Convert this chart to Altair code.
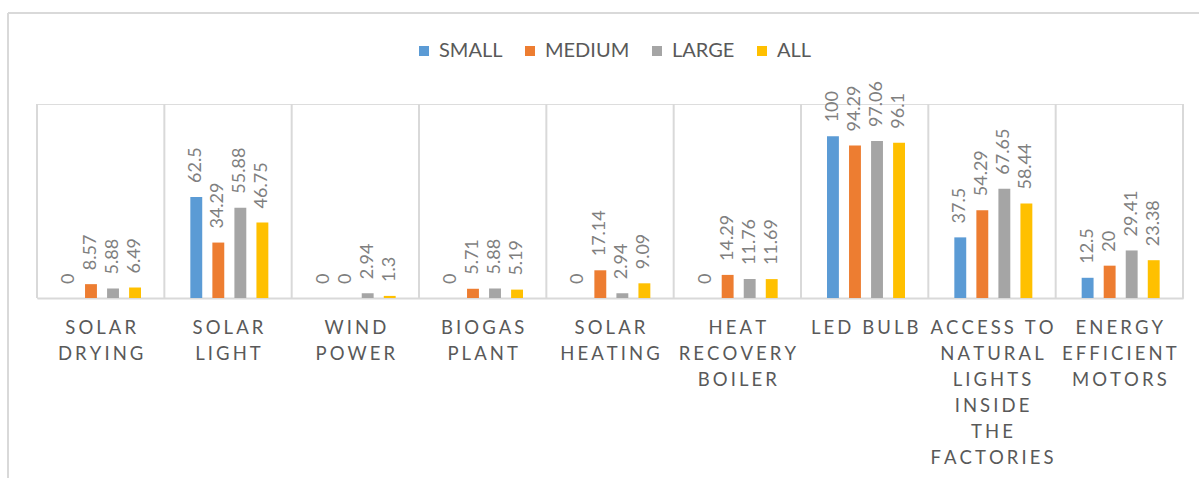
import altair as alt
import pandas as pd

categories = [
    "SOLAR|DRYING",
    "SOLAR|LIGHT",
    "WIND|POWER",
    "BIOGAS|PLANT",
    "SOLAR|HEATING",
    "HEAT|RECOVERY|BOILER",
    "LED BULB",
    "ACCESS TO|NATURAL|LIGHTS|INSIDE|THE|FACTORIES",
    "ENERGY|EFFICIENT|MOTORS",
]
series = ["SMALL", "MEDIUM", "LARGE", "ALL"]
colors = ["#5B9BD5", "#ED7D31", "#A5A5A5", "#FFC000"]

small = [0, 62.5, 0, 0, 0, 0, 100, 37.5, 12.5]
medium = [8.57, 34.29, 0, 5.71, 17.14, 14.29, 94.29, 54.29, 20]
large = [5.88, 55.88, 2.94, 5.88, 2.94, 11.76, 97.06, 67.65, 29.41]
all_ = [6.49, 46.75, 1.3, 5.19, 9.09, 11.69, 96.1, 58.44, 23.38]

GAP = "\u2006"


def spaced(cat):
    return "|".join(GAP.join(line) for line in cat.split("|"))


cat_labels = [spaced(c) for c in categories]

rows = []
for vals, s in zip([small, medium, large, all_], series):
    for c, v in zip(cat_labels, vals):
        rows.append({"cat": c, "series": s, "value": v, "label": f"{v:g}"})
df = pd.DataFrame(rows)
cat_df = pd.DataFrame({"cat": cat_labels})

W, H = 1146, 194
FONT = "Lato"

x_enc = alt.X(
    "cat:N",
    sort=cat_labels,
    scale=alt.Scale(paddingInner=0, paddingOuter=0),
    axis=alt.Axis(
        title=None,
        labelAngle=0,
        labelAlign="center",
        ticks=False,
        labelExpr="split(datum.label, '|')",
        labelFont=FONT,
        labelFontSize=18.5,
        labelColor="#595959",
        labelLineHeight=26,
        labelPadding=20,
        labelBaseline="top",
        labelLimit=200,
        domainColor="#d9d9d9",
        domainWidth=2,
        grid=False,
    ),
)
xoff = alt.XOffset(
    "series:N", sort=series,
    scale=alt.Scale(paddingInner=0.46, paddingOuter=0, range=[26, 104]),
)
y_enc = alt.Y("value:Q", scale=alt.Scale(domain=[0, 120]), axis=None)

bars = alt.Chart(df).mark_bar().encode(
    x=x_enc,
    xOffset=xoff,
    y=y_enc,
    color=alt.Color(
        "series:N",
        sort=series,
        scale=alt.Scale(domain=series, range=colors),
        legend=alt.Legend(
            title=None,
            orient="none",
            direction="horizontal",
            legendX=377,
            legendY=-63,
            symbolType="square",
            symbolSize=100,
            symbolStrokeWidth=0,
            labelFont=FONT,
            labelFontSize=20,
            labelColor="#595959",
            labelOffset=5,
            columnPadding=17,
        ),
    ),
)

texts = alt.Chart(df).mark_text(
    angle=270, align="left", baseline="middle", dx=14,
    font=FONT, fontSize=18, color="#7f7f7f",
).encode(x=x_enc, xOffset=xoff, y=y_enc, text="label:N")

seps = alt.Chart(cat_df).mark_rule(color="#d9d9d9", strokeWidth=2).encode(
    x=alt.X("cat:N", sort=cat_labels, bandPosition=0),
    y=alt.value(0),
    y2=alt.value(H),
)

blank = alt.Data(values=[{"k": 1}])
end_rule = alt.Chart(blank).mark_rule(color="#d9d9d9", strokeWidth=2).encode(
    x=alt.value(W), y=alt.value(0), y2=alt.value(H)
)
border_top = alt.Chart(blank).mark_rule(color="#d9d9d9", strokeWidth=2).encode(
    x=alt.value(-29), x2=alt.value(W + 40), y=alt.value(-91)
)
border_left = alt.Chart(blank).mark_rule(color="#d9d9d9", strokeWidth=2).encode(
    x=alt.value(-29), y=alt.value(-91), y2=alt.value(H + 200)
)

chart = (
    alt.layer(seps, end_rule, border_top, border_left, bars, texts)
    .properties(
        width=W,
        height=H,
        autosize=alt.AutoSizeParams(type="none"),
        padding={"left": 37, "top": 104, "right": 16, "bottom": 180},
    )
    .configure_view(stroke=None)
    .configure(background="white")
)

chart.save("out.html", embed_options={"renderer": "svg", "actions": False})
